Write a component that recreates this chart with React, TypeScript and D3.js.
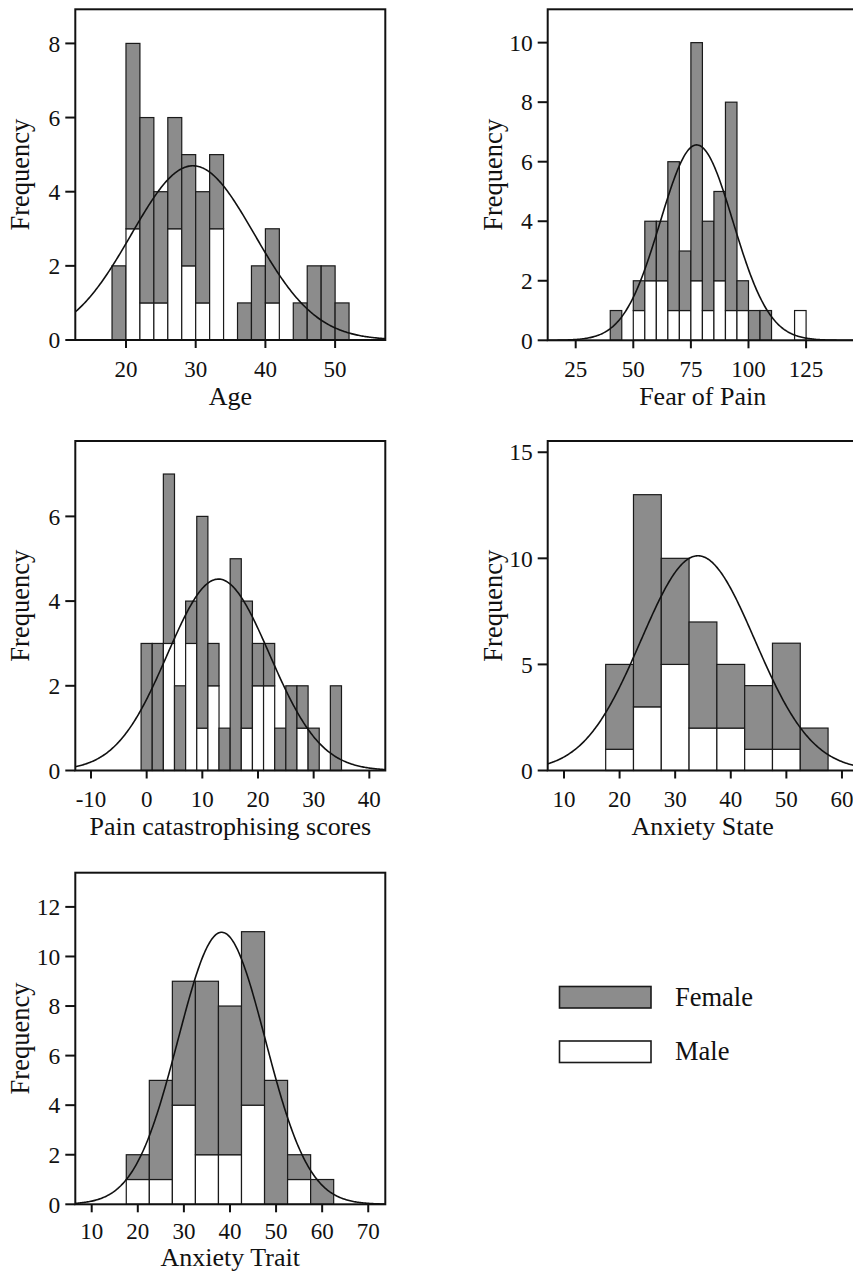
import React from "react";
import * as d3 from "d3";

// Histogram counts (stacked: male at the bottom, female on top)
const ageStart = 18;
const ageWidth = 2;
const ageTotal = [2, 8, 6, 4, 6, 5, 4, 5, 0, 1, 2, 3, 0, 1, 2, 2, 1];
const ageMale = [0, 3, 1, 1, 3, 2, 1, 3, 0, 0, 0, 1, 0, 0, 0, 0, 0];

const fearStart = 40;
const fearWidth = 5;
const fearTotal = [1, 0, 2, 4, 4, 6, 3, 10, 4, 5, 8, 2, 1, 1, 0, 0, 1];
const fearMale = [0, 0, 1, 2, 2, 1, 1, 2, 1, 2, 1, 1, 0, 0, 0, 0, 1];

const pcsStart = -1;
const pcsWidth = 2;
const pcsTotal = [3, 3, 7, 2, 4, 6, 3, 1, 5, 4, 3, 3, 1, 2, 2, 1, 0, 2];
const pcsMale = [0, 0, 3, 0, 3, 1, 2, 0, 0, 1, 2, 2, 0, 0, 1, 0, 0, 0];

const stateStart = 17.5;
const stateWidth = 5;
const stateTotal = [5, 13, 10, 7, 5, 4, 6, 2];
const stateMale = [1, 3, 5, 2, 2, 1, 1, 0];

const traitStart = 17.5;
const traitWidth = 5;
const traitTotal = [2, 5, 9, 9, 8, 11, 5, 2, 1];
const traitMale = [1, 1, 4, 2, 2, 4, 0, 1, 0];

// Fitted normal curve parameters (mean, standard deviation)
const curveMeans = [29.6, 77.5, 12.9, 34.1, 38.2];
const curveSDs = [8.83, 15.8, 9.18, 10.25, 9.45];

// Axis ticks and titles
const ageTicksX = [20, 30, 40, 50];
const ageTicksY = [0, 2, 4, 6, 8];
const fearTicksX = [25, 50, 75, 100, 125];
const fearTicksY = [0, 2, 4, 6, 8, 10];
const pcsTicksX = [-10, 0, 10, 20, 30, 40];
const pcsTicksY = [0, 2, 4, 6];
const stateTicksX = [10, 20, 30, 40, 50, 60];
const stateTicksY = [0, 5, 10, 15];
const traitTicksX = [10, 20, 30, 40, 50, 60, 70];
const traitTicksY = [0, 2, 4, 6, 8, 10, 12];

const titles = ["Age", "Fear of Pain", "Pain catastrophising scores", "Anxiety State", "Anxiety Trait"];
const legendLabels = ["Female", "Male"];

const FEMALE = "#8c8c8c";
const MALE = "#ffffff";
const FONT = "'Liberation Serif', 'Times New Roman', serif";

type PanelProps = {
  left: number;
  top: number;
  bottom: number;
  width: number;
  xDomain: [number, number];
  yMax: number;
  start: number;
  binWidth: number;
  total: number[];
  male: number[];
  mean: number;
  sd: number;
  ticksX: number[];
  ticksY: number[];
  title: string;
  id: string;
  tickGap?: number;
  titleGap?: number;
};

function Panel(p: PanelProps) {
  const x = d3.scaleLinear().domain(p.xDomain).range([p.left, p.left + p.width]);
  const y = d3.scaleLinear().domain([0, p.yMax]).range([p.bottom, p.top]);
  const n = d3.sum(p.total);
  const peak = (n * p.binWidth) / (p.sd * Math.sqrt(2 * Math.PI));
  const xs = d3.range(0, 301).map((i) => p.xDomain[0] + ((p.xDomain[1] - p.xDomain[0]) * i) / 300);
  const line = d3
    .line<number>()
    .x((v) => x(v))
    .y((v) => y(peak * Math.exp(-0.5 * ((v - p.mean) / p.sd) ** 2)));
  const midX = p.left + p.width / 2;
  const tickGap = p.tickGap ?? 36.5;
  const titleGap = p.titleGap ?? 64.5;
  return (
    <g>
      <defs>
        <clipPath id={p.id}>
          <rect x={p.left} y={p.top} width={p.width} height={p.bottom - p.top} />
        </clipPath>
      </defs>
      {p.total.map((t, i) => {
        if (t === 0) return null;
        const x0 = x(p.start + i * p.binWidth);
        const x1 = x(p.start + (i + 1) * p.binWidth);
        const m = p.male[i];
        return (
          <g key={i}>
            {m > 0 && (
              <rect x={x0} y={y(m)} width={x1 - x0} height={y(0) - y(m)} fill={MALE} stroke="#1a1a1a" strokeWidth={1.2} />
            )}
            {t - m > 0 && (
              <rect x={x0} y={y(t)} width={x1 - x0} height={y(m) - y(t)} fill={FEMALE} stroke="#1a1a1a" strokeWidth={1.2} />
            )}
          </g>
        );
      })}
      <path d={line(xs) || ""} fill="none" stroke="#111" strokeWidth={1.6} clipPath={`url(#${p.id})`} />
      {/* frame */}
      <rect x={p.left} y={p.top} width={p.width} height={p.bottom - p.top} fill="none" stroke="#111" strokeWidth={2} />
      {/* y ticks */}
      {p.ticksY.map((t) => (
        <g key={`y${t}`}>
          <line x1={p.left - 10} x2={p.left} y1={y(t)} y2={y(t)} stroke="#111" strokeWidth={2} />
          <text x={p.left - 15} y={y(t)} dy="0.35em" textAnchor="end" fontSize={23.5} fontFamily={FONT} fill="#111">
            {t}
          </text>
        </g>
      ))}
      {/* x ticks */}
      {p.ticksX.map((t) => (
        <g key={`x${t}`}>
          <line x1={x(t)} x2={x(t)} y1={p.bottom} y2={p.bottom + 8} stroke="#111" strokeWidth={2} />
          <text x={x(t)} y={p.bottom + tickGap} textAnchor="middle" fontSize={23} fontFamily={FONT} fill="#111">
            {t}
          </text>
        </g>
      ))}
      <text x={midX} y={p.bottom + titleGap} textAnchor="middle" fontSize={26} fontFamily={FONT} fill="#111">
        {p.title}
      </text>
      <text
        transform={`translate(${p.left - 46},${(p.top + p.bottom) / 2}) rotate(-90)`}
        textAnchor="middle"
        fontSize={26.5}
        fontFamily={FONT}
        fill="#111"
      >
        Frequency
      </text>
    </g>
  );
}

export default function App() {
  const W = 853;
  const H = 1272;
  const legendColors = [FEMALE, MALE];
  return (
    <svg width={W} height={H} style={{ position: "absolute", left: 0, top: 0, background: "#fff" }}>
      <Panel id="c1" left={75.3} top={9.3} bottom={340} width={310} xDomain={[12.73, 57.2]} yMax={8.92}
        start={ageStart} binWidth={ageWidth} total={ageTotal} male={ageMale}
        mean={curveMeans[0]} sd={curveSDs[0]} ticksX={ageTicksX} ticksY={ageTicksY} title={titles[0]} />
      <Panel id="c2" left={547.7} top={9.3} bottom={340.3} width={310} xDomain={[12.85, 147.4]} yMax={11.12}
        start={fearStart} binWidth={fearWidth} total={fearTotal} male={fearMale}
        mean={curveMeans[1]} sd={curveSDs[1]} ticksX={fearTicksX} ticksY={fearTicksY} title={titles[1]} />
      <Panel id="c3" left={75.3} top={441} bottom={770.5} width={310} xDomain={[-12.82, 42.87]} yMax={7.78}
        start={pcsStart} binWidth={pcsWidth} total={pcsTotal} male={pcsMale}
        mean={curveMeans[2]} sd={curveSDs[2]} ticksX={pcsTicksX} ticksY={pcsTicksY} title={titles[2]} />
      <Panel id="c4" left={547.7} top={441} bottom={770.5} width={310} xDomain={[7.07, 62.83]} yMax={15.53}
        start={stateStart} binWidth={stateWidth} total={stateTotal} male={stateMale}
        mean={curveMeans[3]} sd={curveSDs[3]} ticksX={stateTicksX} ticksY={stateTicksY} title={titles[3]} />
      <Panel id="c5" left={75.3} top={872.7} bottom={1204.3} width={310} xDomain={[6.44, 73.7]} yMax={13.38}
        start={traitStart} binWidth={traitWidth} total={traitTotal} male={traitMale}
        mean={curveMeans[4]} sd={curveSDs[4]} ticksX={traitTicksX} ticksY={traitTicksY} title={titles[4]}
        tickGap={35} titleGap={61.2} />
      {/* legend */}
      {legendLabels.map((lab, i) => (
        <g key={lab} transform={`translate(0,${i * 54.5})`}>
          <rect x={559.5} y={986.5} width={91.5} height={21.5} fill={legendColors[i]} stroke="#1a1a1a" strokeWidth={1.6} />
          <text x={675} y={1005.5} fontSize={26.5} fontFamily={FONT} fill="#111">
            {lab}
          </text>
        </g>
      ))}
    </svg>
  );
}
